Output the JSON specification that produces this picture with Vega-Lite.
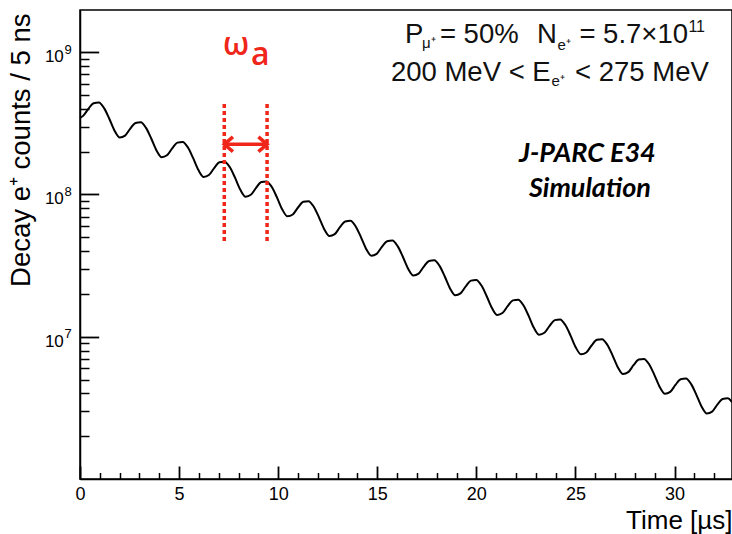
{
  "$schema": "https://vega.github.io/schema/vega-lite/v6.json",
  "width": 652,
  "height": 469,
  "autosize": "none",
  "padding": {"left": 80, "top": 10, "right": 0, "bottom": 55},
  "background": "white",
  "config": {"view": {"stroke": "#000", "strokeWidth": 1.5}},
  "datasets": {
    "curve": [
      {"t": 0, "n": 3.448e8}, {"t": 0.157, "n": 3.569e8}, {"t": 0.421, "n": 3.994e8}, {"t": 0.686, "n": 4.380e8},
      {"t": 0.95, "n": 4.426e8}, {"t": 1.215, "n": 4.045e8}, {"t": 1.479, "n": 3.405e8}, {"t": 1.744, "n": 2.809e8}, {"t": 2.008, "n": 2.515e8}, {"t": 2.273, "n": 2.594e8}, {"t": 2.537, "n": 2.903e8}, {"t": 2.802, "n": 3.184e8},
      {"t": 3.066, "n": 3.216e8}, {"t": 3.331, "n": 2.939e8}, {"t": 3.595, "n": 2.474e8}, {"t": 3.86, "n": 2.041e8}, {"t": 4.124, "n": 1.828e8}, {"t": 4.389, "n": 1.885e8}, {"t": 4.653, "n": 2.109e8}, {"t": 4.918, "n": 2.314e8},
      {"t": 5.182, "n": 2.338e8}, {"t": 5.447, "n": 2.137e8}, {"t": 5.711, "n": 1.799e8}, {"t": 5.976, "n": 1.484e8}, {"t": 6.24, "n": 1.329e8}, {"t": 6.505, "n": 1.37e8}, {"t": 6.769, "n": 1.533e8}, {"t": 7.034, "n": 1.682e8},
      {"t": 7.298, "n": 1.699e8}, {"t": 7.563, "n": 1.553e8}, {"t": 7.827, "n": 1.307e8}, {"t": 8.092, "n": 1.0785e8}, {"t": 8.356, "n": 9.656e7}, {"t": 8.621, "n": 9.958e7}, {"t": 8.885, "n": 1.1144e8}, {"t": 9.15, "n": 1.2223e8},
      {"t": 9.414, "n": 1.2349e8}, {"t": 9.679, "n": 1.1287e8}, {"t": 9.943, "n": 9.502e7}, {"t": 10.208, "n": 7.839e7}, {"t": 10.472, "n": 7.018e7}, {"t": 10.737, "n": 7.238e7}, {"t": 11.001, "n": 8.1e7}, {"t": 11.266, "n": 8.884e7},
      {"t": 11.53, "n": 8.975e7}, {"t": 11.795, "n": 8.203e7}, {"t": 12.059, "n": 6.905e7}, {"t": 12.324, "n": 5.697e7}, {"t": 12.588, "n": 5.101e7}, {"t": 12.853, "n": 5.26e7}, {"t": 13.117, "n": 5.887e7}, {"t": 13.382, "n": 6.457e7},
      {"t": 13.646, "n": 6.523e7}, {"t": 13.911, "n": 5.962e7}, {"t": 14.175, "n": 5.019e7}, {"t": 14.44, "n": 4.141e7}, {"t": 14.704, "n": 3.707e7}, {"t": 14.969, "n": 3.823e7}, {"t": 15.233, "n": 4.279e7}, {"t": 15.498, "n": 4.693e7},
      {"t": 15.762, "n": 4.741e7}, {"t": 16.027, "n": 4.333e7}, {"t": 16.291, "n": 3.648e7}, {"t": 16.556, "n": 3.009e7}, {"t": 16.82, "n": 2.695e7}, {"t": 17.085, "n": 2.779e7}, {"t": 17.349, "n": 3.11e7}, {"t": 17.614, "n": 3.411e7},
      {"t": 17.878, "n": 3.445e7}, {"t": 18.143, "n": 3.149e7}, {"t": 18.407, "n": 2.651e7}, {"t": 18.672, "n": 2.187e7}, {"t": 18.936, "n": 1.958e7}, {"t": 19.201, "n": 2.019e7}, {"t": 19.465, "n": 2.26e7}, {"t": 19.73, "n": 2.479e7},
      {"t": 19.994, "n": 2.504e7}, {"t": 20.259, "n": 2.289e7}, {"t": 20.523, "n": 1.927e7}, {"t": 20.788, "n": 1.59e7}, {"t": 21.052, "n": 1.423e7}, {"t": 21.317, "n": 1.468e7}, {"t": 21.581, "n": 1.643e7}, {"t": 21.846, "n": 1.802e7},
      {"t": 22.11, "n": 1.82e7}, {"t": 22.375, "n": 1.664e7}, {"t": 22.639, "n": 1.4e7}, {"t": 22.904, "n": 1.155e7}, {"t": 23.168, "n": 1.034e7}, {"t": 23.433, "n": 1.067e7}, {"t": 23.697, "n": 1.194e7}, {"t": 23.962, "n": 1.309e7},
      {"t": 24.226, "n": 1.323e7}, {"t": 24.491, "n": 1.209e7}, {"t": 24.755, "n": 1.018e7}, {"t": 25.02, "n": 8.397e6}, {"t": 25.284, "n": 7.518e6}, {"t": 25.549, "n": 7.753e6}, {"t": 25.813, "n": 8.677e6}, {"t": 26.078, "n": 9.517e6},
      {"t": 26.342, "n": 9.614e6}, {"t": 26.607, "n": 8.788e6}, {"t": 26.871, "n": 7.397e6}, {"t": 27.136, "n": 6.103e6}, {"t": 27.4, "n": 5.464e6}, {"t": 27.665, "n": 5.635e6}, {"t": 27.929, "n": 6.306e6}, {"t": 28.194, "n": 6.917e6},
      {"t": 28.458, "n": 6.988e6}, {"t": 28.723, "n": 6.387e6}, {"t": 28.987, "n": 5.376e6}, {"t": 29.252, "n": 4.435e6}, {"t": 29.516, "n": 3.971e6}, {"t": 29.781, "n": 4.095e6}, {"t": 30.045, "n": 4.583e6}, {"t": 30.31, "n": 5.027e6},
      {"t": 30.574, "n": 5.078e6}, {"t": 30.839, "n": 4.642e6}, {"t": 31.103, "n": 3.907e6}, {"t": 31.368, "n": 3.224e6}, {"t": 31.632, "n": 2.886e6}, {"t": 31.897, "n": 2.976e6}, {"t": 32.161, "n": 3.331e6}, {"t": 32.426, "n": 3.653e6},
      {"t": 32.69, "n": 3.691e6}, {"t": 32.9, "n": 3.463e6}
    ],
    "mainText": [
      {"t": 16.4, "n": 1.161e9, "s": "P"},
      {"t": 18.16, "n": 1.161e9, "s": "= 50%"},
      {"t": 23.06, "n": 1.161e9, "s": "N"},
      {"t": 25.2, "n": 1.161e9, "s": "= 5.7×10"},
      {"t": 15.69, "n": 6.244e8, "s": "200 MeV < E"},
      {"t": 24.98, "n": 6.244e8, "s": "< 275 MeV"}
    ],
    "subText": [
      {"t": 17.26, "n": 1.07e9, "s": "μ⁺"},
      {"t": 24.09, "n": 1.041e9, "s": "e⁺"},
      {"t": 23.79, "n": 5.787e8, "s": "e⁺"}
    ],
    "supText": [
      {"t": 30.7, "n": 1.398e9, "s": "11"}
    ],
    "expText": [
      {"t": 25.6, "n": 1.691e8, "s": "J-PARC E34"},
      {"t": 25.73, "n": 9.596e7, "s": "Simulation"}
    ],
    "omegaText": [
      {"t": 7.22, "n": 9.557e8, "s": "ω"},
      {"t": 8.63, "n": 8.128e8, "s": "a"}
    ],
    "dotted": [
      {"t": 7.28, "n": 4.324e8, "n2": 4.536e7},
      {"t": 9.44, "n": 4.324e8, "n2": 4.536e7}
    ],
    "arrow": [
      {"t": 7.28, "t2": 9.44, "n": 2.252e8}
    ]
  },
  "resolve": {"axis": {"x": "independent", "y": "independent"}},
  "layer": [
    {
      "data": {"name": "curve"},
      "mark": {"type": "line", "color": "#000", "strokeWidth": 2, "interpolate": "monotone"},
      "encoding": {
        "x": {"field": "t", "type": "quantitative",
          "scale": {"domain": [0, 32.9], "nice": false, "zero": false},
          "axis": {"orient": "bottom", "values": [0, 5, 10, 15, 20, 25, 30], "format": "d",
            "ticks": false, "domainColor": "#000", "domainWidth": 1.5, "grid": false,
            "labelFont": "Liberation Sans", "labelFontSize": 18, "labelColor": "#000",
            "labelPadding": 20.3, "labelBaseline": "alphabetic", "labelFlush": false, "labelOverlap": false, "labelBound": false,
            "title": "Time [µs]", "titleFont": "Liberation Sans", "titleFontSize": 26, "titleFontWeight": "normal", "titleColor": "#000",
            "titleAnchor": "end", "titleAlign": "right", "titleBaseline": "alphabetic", "titleX": 652, "titleY": 49}},
        "y": {"field": "n", "type": "quantitative",
          "scale": {"type": "log", "domain": [1e6, 1.98e9], "nice": false},
          "axis": {"orient": "left", "values": [1e7, 1e8, 1e9], "labelExpr": "'10'",
            "ticks": false, "domainColor": "#000", "domainWidth": 1.5, "grid": false,
            "labelFont": "Liberation Sans", "labelFontSize": 17, "labelColor": "#000",
            "labelPadding": 16.7, "labelAlign": "right", "labelBaseline": "alphabetic", "labelOffset": 9.5, "labelOverlap": false, "labelBound": false,
            "title": "Decay e⁺ counts / 5 ns", "titleFont": "Liberation Sans", "titleFontSize": 27.5, "titleFontWeight": "normal", "titleColor": "#000",
            "titleAngle": 270, "titleAnchor": "end", "titleAlign": "right", "titleBaseline": "alphabetic", "titleX": -51, "titleY": 3}}
      }
    },
    {
      "data": {"name": "curve"},
      "mark": {"type": "line", "strokeOpacity": 0},
      "encoding": {
        "x": {"field": "t", "type": "quantitative",
          "scale": {"domain": [0, 32.9], "nice": false, "zero": false},
          "axis": {"orient": "top", "offset": -469, "values": [0, 5, 10, 15, 20, 25, 30],
            "ticks": true, "tickSize": 13, "tickWidth": 1.8, "tickColor": "#000", "labels": false, "domain": false, "grid": false, "title": null}},
        "y": {"field": "n", "type": "quantitative",
          "scale": {"type": "log", "domain": [1e6, 1.98e9], "nice": false},
          "axis": {"orient": "right", "offset": -652, "values": [1e7, 1e8, 1e9],
            "ticks": true, "tickSize": 18.7, "tickWidth": 1.8, "tickColor": "#000", "labels": false, "domain": false, "grid": false, "title": null}}
      }
    },
    {
      "data": {"name": "curve"},
      "mark": {"type": "line", "strokeOpacity": 0},
      "encoding": {
        "x": {"field": "t", "type": "quantitative",
          "scale": {"domain": [0, 32.9], "nice": false, "zero": false},
          "axis": {"orient": "top", "offset": -469, "values": [1, 2, 3, 4, 6, 7, 8, 9, 11, 12, 13, 14, 16, 17, 18, 19, 21, 22, 23, 24, 26, 27, 28, 29, 31, 32],
            "ticks": true, "tickSize": 6.5, "tickWidth": 1.5, "tickColor": "#000", "labels": false, "domain": false, "grid": false, "title": null}},
        "y": {"field": "n", "type": "quantitative",
          "scale": {"type": "log", "domain": [1e6, 1.98e9], "nice": false},
          "axis": {"orient": "right", "offset": -652,
            "values": [2e6, 3e6, 4e6, 5e6, 6e6, 7e6, 8e6, 9e6, 2e7, 3e7, 4e7, 5e7, 6e7, 7e7, 8e7, 9e7, 2e8, 3e8, 4e8, 5e8, 6e8, 7e8, 8e8, 9e8],
            "ticks": true, "tickSize": 9, "tickWidth": 1.5, "tickColor": "#000", "labels": false, "domain": false, "grid": false, "title": null}}
      }
    },
    {
      "data": {"name": "curve"},
      "mark": {"type": "line", "strokeOpacity": 0},
      "encoding": {
        "x": {"field": "t", "type": "quantitative", "axis": null,
          "scale": {"domain": [0, 32.9], "nice": false, "zero": false}},
        "y": {"field": "n", "type": "quantitative",
          "scale": {"type": "log", "domain": [1e6, 1.98e9], "nice": false},
          "axis": {"orient": "left", "values": [1e7, 1e8, 1e9],
            "labelExpr": "datum.value == 1e7 ? '7' : datum.value == 1e8 ? '8' : '9'",
            "ticks": false, "domain": false, "grid": false, "title": null,
            "labelFont": "Liberation Sans", "labelFontSize": 13, "labelColor": "#000",
            "labelAlign": "left", "labelBaseline": "alphabetic", "labelPadding": 16, "labelOffset": 1, "labelOverlap": false, "labelBound": false}}
      }
    },
    {
      "data": {"name": "dotted"},
      "mark": {"type": "rule", "color": "#f0261a", "strokeWidth": 3.5, "strokeDash": [4, 3]},
      "encoding": {
        "x": {"field": "t", "type": "quantitative", "axis": null, "scale": {"domain": [0, 32.9], "nice": false, "zero": false}},
        "y": {"field": "n", "type": "quantitative", "axis": null, "scale": {"type": "log", "domain": [1e6, 1.98e9], "nice": false}},
        "y2": {"field": "n2"}
      }
    },
    {
      "data": {"name": "arrow"},
      "mark": {"type": "rule", "color": "#f0261a", "strokeWidth": 3.5},
      "encoding": {
        "x": {"field": "t", "type": "quantitative", "axis": null, "scale": {"domain": [0, 32.9], "nice": false, "zero": false}},
        "x2": {"field": "t2"},
        "y": {"field": "n", "type": "quantitative", "axis": null, "scale": {"type": "log", "domain": [1e6, 1.98e9], "nice": false}}
      }
    },
    {
      "data": {"name": "arrow"},
      "mark": {"type": "point", "shape": "M1,-0.85L0,0L1,0.85", "filled": false, "color": "#f0261a", "strokeWidth": 3.5, "size": 300, "opacity": 1},
      "encoding": {
        "x": {"field": "t", "type": "quantitative", "axis": null, "scale": {"domain": [0, 32.9], "nice": false, "zero": false}},
        "y": {"field": "n", "type": "quantitative", "axis": null, "scale": {"type": "log", "domain": [1e6, 1.98e9], "nice": false}}
      }
    },
    {
      "data": {"name": "arrow"},
      "mark": {"type": "point", "shape": "M-1,-0.85L0,0L-1,0.85", "filled": false, "color": "#f0261a", "strokeWidth": 3.5, "size": 300, "opacity": 1},
      "encoding": {
        "x": {"field": "t2", "type": "quantitative", "axis": null, "scale": {"domain": [0, 32.9], "nice": false, "zero": false}},
        "y": {"field": "n", "type": "quantitative", "axis": null, "scale": {"type": "log", "domain": [1e6, 1.98e9], "nice": false}}
      }
    },
    {
      "data": {"name": "mainText"},
      "mark": {"type": "text", "align": "left", "baseline": "alphabetic", "font": "Liberation Sans", "fontSize": 27.5, "color": "#111"},
      "encoding": {
        "x": {"field": "t", "type": "quantitative", "axis": null, "scale": {"domain": [0, 32.9], "nice": false, "zero": false}},
        "y": {"field": "n", "type": "quantitative", "axis": null, "scale": {"type": "log", "domain": [1e6, 1.98e9], "nice": false}},
        "text": {"field": "s"}
      }
    },
    {
      "data": {"name": "subText"},
      "mark": {"type": "text", "align": "left", "baseline": "alphabetic", "font": "Liberation Sans", "fontSize": 15, "color": "#111"},
      "encoding": {
        "x": {"field": "t", "type": "quantitative", "axis": null, "scale": {"domain": [0, 32.9], "nice": false, "zero": false}},
        "y": {"field": "n", "type": "quantitative", "axis": null, "scale": {"type": "log", "domain": [1e6, 1.98e9], "nice": false}},
        "text": {"field": "s"}
      }
    },
    {
      "data": {"name": "supText"},
      "mark": {"type": "text", "align": "left", "baseline": "alphabetic", "font": "Liberation Sans", "fontSize": 16, "color": "#111"},
      "encoding": {
        "x": {"field": "t", "type": "quantitative", "axis": null, "scale": {"domain": [0, 32.9], "nice": false, "zero": false}},
        "y": {"field": "n", "type": "quantitative", "axis": null, "scale": {"type": "log", "domain": [1e6, 1.98e9], "nice": false}},
        "text": {"field": "s"}
      }
    },
    {
      "data": {"name": "expText"},
      "mark": {"type": "text", "align": "center", "baseline": "alphabetic", "font": "Lato", "fontSize": 27, "fontWeight": "bold", "fontStyle": "italic", "color": "#000"},
      "encoding": {
        "x": {"field": "t", "type": "quantitative", "axis": null, "scale": {"domain": [0, 32.9], "nice": false, "zero": false}},
        "y": {"field": "n", "type": "quantitative", "axis": null, "scale": {"type": "log", "domain": [1e6, 1.98e9], "nice": false}},
        "text": {"field": "s"}
      }
    },
    {
      "data": {"name": "omegaText"},
      "mark": {"type": "text", "align": "left", "baseline": "alphabetic", "font": "Open Sans", "fontSize": 32, "fontWeight": 600, "color": "#f0261a"},
      "encoding": {
        "x": {"field": "t", "type": "quantitative", "axis": null, "scale": {"domain": [0, 32.9], "nice": false, "zero": false}},
        "y": {"field": "n", "type": "quantitative", "axis": null, "scale": {"type": "log", "domain": [1e6, 1.98e9], "nice": false}},
        "text": {"field": "s"}
      }
    }
  ]
}
